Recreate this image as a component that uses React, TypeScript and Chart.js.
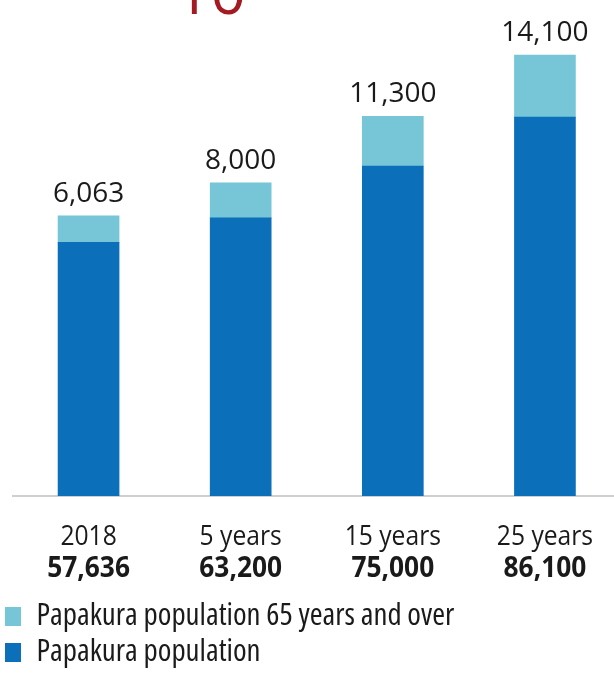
import React, { useEffect, useRef } from "react";
import { Chart, registerables } from "chart.js";

Chart.register(...registerables);

const categories = ["2018", "5 years", "15 years", "25 years"];
const population = [57636, 63200, 75000, 86100];
const population65 = [6063, 8000, 11300, 14100];
const seriesNames = ["Papakura population", "Papakura population 65 years and over"];
const headingText = "10";

const DARK = "#0b6fba";
const LIGHT = "#77c6d8";
const FONT = "'Open Sans', 'Noto Sans', sans-serif";
const fmt = (v: number) => v.toLocaleString("en-US");

function scaledText(ctx: CanvasRenderingContext2D, text: string, x: number, y: number, sx: number) {
  ctx.save();
  ctx.translate(x, y);
  ctx.scale(sx, 1);
  ctx.fillText(text, 0, 0);
  ctx.restore();
}

const labelPlugin = {
  id: "customLabels",
  afterDatasetsDraw(chart: any) {
    const ctx = chart.ctx;
    const x = chart.scales.x;
    const top = chart.getDatasetMeta(1);
    ctx.save();
    ctx.fillStyle = "#1a1a1a";
    ctx.textAlign = "center";
    ctx.textBaseline = "alphabetic";
    ctx.font = `28px ${FONT}`;
    top.data.forEach((bar: any, i: number) => {
      scaledText(ctx, fmt(population65[i]), bar.x, bar.y - 14, 1.0);
    });
    categories.forEach((c, i) => {
      const px = x.getPixelForValue(i);
      ctx.font = `28px ${FONT}`;
      scaledText(ctx, c, px, 545, 0.88);
      ctx.font = `bold 28px ${FONT}`;
      scaledText(ctx, fmt(population[i]), px, 577, 0.94);
    });
    ctx.restore();
  },
};

export default function App() {
  const ref = useRef<HTMLCanvasElement | null>(null);
  useEffect(() => {
    document.body.style.margin = "0";
    document.body.style.overflow = "hidden";
    const chart = new Chart(ref.current as HTMLCanvasElement, {
      type: "bar",
      data: {
        labels: categories,
        datasets: [
          { label: seriesNames[0], data: population, backgroundColor: DARK, borderWidth: 0, barThickness: 61 },
          { label: seriesNames[1], data: population65, backgroundColor: LIGHT, borderWidth: 0, barThickness: 61 },
        ],
      },
      options: {
        responsive: false,
        animation: false,
        layout: { padding: { left: 0, right: 3, top: 12, bottom: -4 } },
        scales: {
          x: {
            stacked: true,
            grid: { display: false },
            ticks: { display: false },
            border: { display: true, color: "#cfcfcf", width: 2 },
            afterFit: (s: any) => { s.height = 100; },
          },
          y: {
            stacked: true,
            min: 0,
            max: 110000,
            grid: { display: false },
            ticks: { display: false },
            border: { display: false },
            afterFit: (s: any) => { s.width = 12.5; },
          },
        },
        plugins: {
          tooltip: { enabled: false },
          legend: {
            position: "bottom",
            align: "start",
            reverse: true,
            labels: {
              boxWidth: 16,
              boxHeight: 19,
              padding: 5,
              color: "#1a1a1a",
              font: { size: 31, family: FONT, weight: "normal condensed" },
            },
          },
        },
      },
      plugins: [labelPlugin],
    } as any);
    return () => chart.destroy();
  }, []);
  return (
    <div style={{ position: "relative", width: 614, height: 674, overflow: "hidden" }}>
      <div
        style={{
          position: "absolute",
          left: 175,
          top: -41,
          fontFamily: FONT,
          fontSize: 62,
          lineHeight: 1,
          color: "#a31a22",
          whiteSpace: "nowrap",
        }}
      >
        {headingText}
      </div>
      <canvas ref={ref} width={624} height={674} style={{ display: "block", width: 624, height: 674 }} />
    </div>
  );
}
